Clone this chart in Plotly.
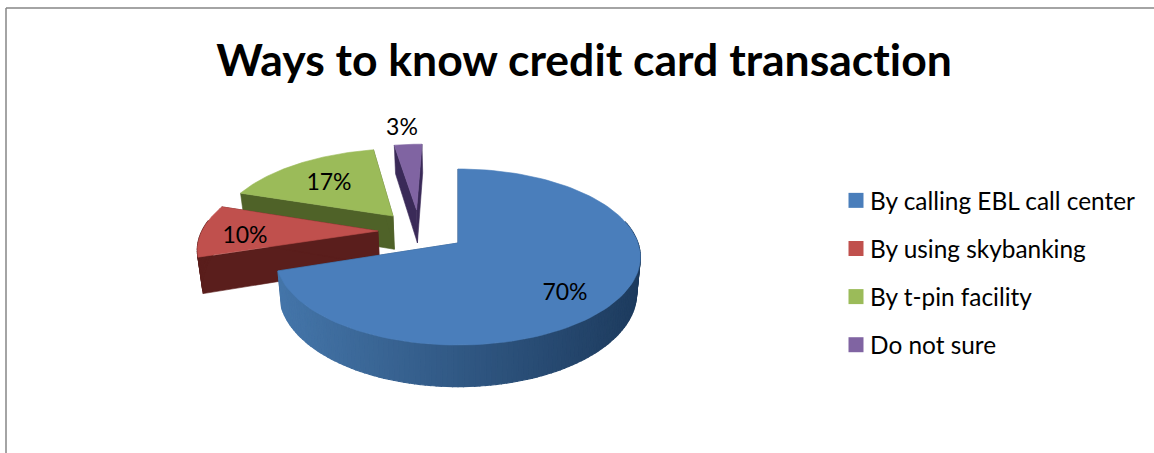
import numpy as np
import plotly.graph_objects as go

TITLE = "Ways to know credit card transaction"
CATEGORIES = ["By calling EBL call center", "By using skybanking", "By t-pin facility", "Do not sure"]
VALUES = [70, 10, 17, 3]
TOP_COLORS = ["#4A7EBB", "#C0504D", "#9BBB59", "#8064A2"]
WALL_COLORS = ["#2C5078", "#5A1E1C", "#4F6228", "#3A2A58"]
# exploded offset of each slice on the pie's own disc
PULL_X = [0.0, -0.455, -0.38, -0.245]
PULL_Y = [0.0, -0.143, -0.331, -0.41]
LABEL_X = [565, 245, 329, 402]
LABEL_Y = [294, 237, 184, 129]

W, H = 1154, 453
CX, CY, AX, BY, K, DEPTH = 458.0, 243.0, 180.0, 85.8, 0.159, 35.0
FONT = "Lato"


def project(x, y, down=0.0):
    w = 1 - K * y
    shrink = 1 - 0.02 * down / DEPTH
    return CX + AX * x / w * shrink, CY + (BY * y + down) / w


def rim(a0, a1, dx, dy, down=0.0, n=60):
    t = np.radians(np.linspace(a0, a1, n))
    return project(np.sin(t) + dx, -np.cos(t) + dy, down)


def poly(xs, ys, color, width=0.6):
    return go.Scatter(x=list(xs), y=list(ys), mode="lines", fill="toself", fillcolor=color,
                      line=dict(color=color, width=width), showlegend=False, hoverinfo="skip")


def mix(c0, c1, f):
    a = [int(c0[i:i + 2], 16) for i in (1, 3, 5)]
    b = [int(c1[i:i + 2], 16) for i in (1, 3, 5)]
    return "#" + "".join(f"{round(p + (q - p) * f):02x}" for p, q in zip(a, b))


fig = go.Figure()
total = sum(VALUES)
starts = np.cumsum([0] + VALUES[:-1]) * 360 / total
ends = np.cumsum(VALUES) * 360 / total

# back slices first, front slice last
for i in [3, 2, 1, 0]:
    a0, a1, dx, dy = starts[i], ends[i], PULL_X[i], PULL_Y[i]
    ax0, ay0 = project(dx, dy)
    ax1, ay1 = project(dx, dy, DEPTH)
    for edge in (a0, a1):
        ex0, ey0 = rim(edge, edge, dx, dy, n=1)
        ex1, ey1 = rim(edge, edge, dx, dy, DEPTH, n=1)
        fig.add_trace(poly([ax0, ex0[0], ex1[0], ax1, ax0], [ay0, ey0[0], ey1[0], ay1, ay0], WALL_COLORS[i]))
    step = 1.5
    for a in np.arange(a0, a1, step):
        b = min(a + step, a1)
        if -np.cos(np.radians(a)) + dy < -0.25 and -np.cos(np.radians(b)) + dy < -0.25:
            continue
        x0, y0 = rim(a, b, dx, dy, n=3)
        x1, y1 = rim(b, a, dx, dy, DEPTH, n=3)
        c = WALL_COLORS[i]
        if i == 0:
            f = min(max((x0[1] - 280) / 360, 0), 1)
            c = mix("#4475A9", "#1D3B5E", f)
        fig.add_trace(poly(np.r_[x0, x1, x0[0]], np.r_[y0, y1, y0[0]], c, width=1.2))
    x, y = rim(a0, a1, dx, dy, n=120)
    fig.add_trace(poly(np.r_[ax0, x, ax0], np.r_[ay0, y, ay0], TOP_COLORS[i]))

for name, color in zip(CATEGORIES, TOP_COLORS):
    fig.add_trace(go.Scatter(x=[None], y=[None], mode="markers", name=name, legendgroup=name,
                             marker=dict(symbol="square", size=15, color=color), hoverinfo="skip"))

fig.add_trace(go.Scatter(x=LABEL_X, y=LABEL_Y, mode="text", text=[f"{v}%" for v in VALUES],
                         textposition="middle center", textfont=dict(family=FONT, size=23, color="#000000"),
                         showlegend=False, hoverinfo="skip"))

fig.update_layout(
    width=W, height=H, margin=dict(l=0, r=0, t=0, b=0),
    paper_bgcolor="white", plot_bgcolor="white",
    xaxis=dict(range=[0, W], visible=False, fixedrange=True),
    yaxis=dict(range=[H, 0], visible=False, fixedrange=True),
    title=dict(text=f"<b>{TITLE}</b>", x=584 / W, xanchor="center", y=1 - 60 / H, yanchor="middle",
               font=dict(family=FONT, size=44.5, color="#000000")),
    legend=dict(x=830 / W, y=1 - 178 / H, xanchor="left", yanchor="top", tracegroupgap=13.4,
                font=dict(family=FONT, size=24.4, color="#000000"), bgcolor="rgba(0,0,0,0)"),
    shapes=[dict(type="line", xref="x", yref="y", x0=6, y0=H, x1=6, y1=8, line=dict(color="#868686", width=1.5)),
            dict(type="line", xref="x", yref="y", x0=6, y0=8, x1=W, y1=8, line=dict(color="#868686", width=1.5))],
)
POST = """
document.body.style.margin = '0';
var st = document.createElement('style');
st.textContent = 'svg text{font-variant-ligatures:none !important;font-feature-settings:"liga" 0,"clig" 0 !important;}';
document.head.appendChild(st);
document.querySelectorAll('.legendsymbols').forEach(function (g) {
  g.setAttribute('transform', 'translate(6,0)');
});
"""
fig.write_html("out.html", post_script=POST, config={"displayModeBar": False})
